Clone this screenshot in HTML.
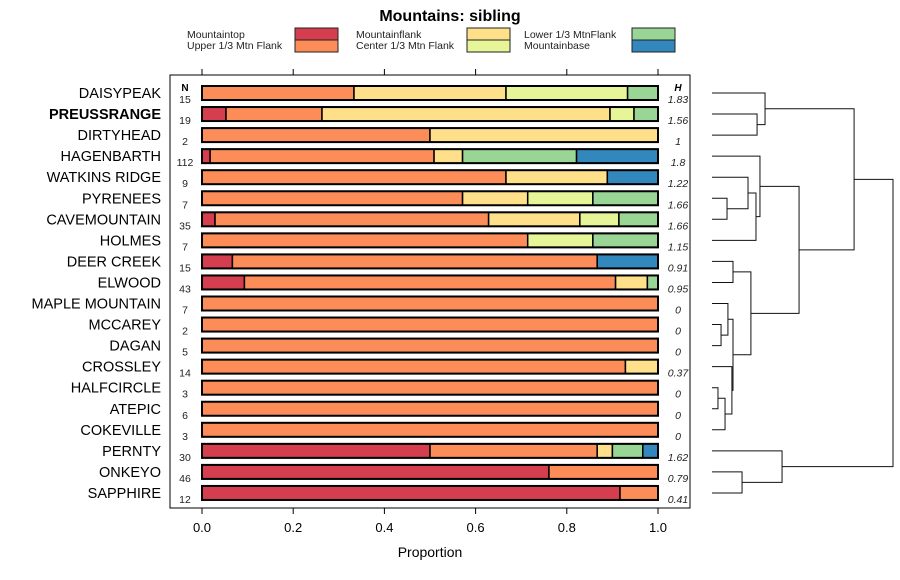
<!DOCTYPE html>
<html><head><meta charset="utf-8"><style>
body{margin:0;background:#fff}
svg{display:block;font-family:"Liberation Sans",sans-serif}
</style></head><body>
<svg id="c" width="900" height="580"></svg>
<script>
const sites=["DAISYPEAK","PREUSSRANGE","DIRTYHEAD","HAGENBARTH","WATKINS RIDGE","PYRENEES","CAVEMOUNTAIN","HOLMES","DEER CREEK","ELWOOD","MAPLE MOUNTAIN","MCCAREY","DAGAN","CROSSLEY","HALFCIRCLE","ATEPIC","COKEVILLE","PERNTY","ONKEYO","SAPPHIRE"];
const categories=["Mountaintop","Upper 1/3 Mtn Flank","Mountainflank","Center 1/3 Mtn Flank","Lower 1/3 MtnFlank","Mountainbase"];
const colors=["#d53e4f","#fc8d59","#fee08b","#e6f598","#99d594","#3288bd"];
const counts=[
[0,5,5,4,1,0],[1,4,12,1,1,0],[0,1,1,0,0,0],[2,55,7,0,28,20],[0,6,2,0,0,1],
[0,4,1,1,1,0],[1,21,7,3,3,0],[0,5,0,1,1,0],[1,12,0,0,0,2],[4,35,3,0,1,0],
[0,7,0,0,0,0],[0,2,0,0,0,0],[0,5,0,0,0,0],[0,13,1,0,0,0],[0,3,0,0,0,0],
[0,6,0,0,0,0],[0,3,0,0,0,0],[15,11,1,0,2,1],[35,11,0,0,0,0],[11,1,0,0,0,0]];
const hValues=["1.83","1.56","1","1.8","1.22","1.66","1.66","1.15","0.91","0.95","0","0","0","0.37","0","0","0","1.62","0.79","0.41"];
const xTicks=[0,0.2,0.4,0.6,0.8,1.0];
const xTickLabels=["0.0","0.2","0.4","0.6","0.8","1.0"];
// dendrogram merges: [a,b,height]; numbers = leaf index, "nK" = K-th merge
const merges=[
[1,2,0.249],[0,"n0",0.293],[5,6,0.083],[4,"n2",0.199],["n3",7,0.243],[3,"n4",0.265],
[8,9,0.116],[11,12,0.050],[10,"n7",0.088],[14,15,0.033],[16,"n9",0.072],[13,"n10",0.110],
["n8","n11",0.116],["n6","n12",0.215],["n5","n13",0.481],["n1","n14",0.785],
[18,19,0.166],[17,"n16",0.387],["n15","n17",1.0]];
const svg=document.getElementById('c');const NS="http://www.w3.org/2000/svg";
function mk(t,a,p){const e=document.createElementNS(NS,t);for(const k in a)e.setAttribute(k,a[k]);(p||svg).appendChild(e);return e;}
const X0=202,X1=658,xs=p=>X0+p*(X1-X0);
const Y0=93,DY=21.05,ys=i=>Y0+i*DY;
let t=mk('text',{x:450,y:21,'text-anchor':'middle','font-size':16,'font-weight':'bold'});t.textContent="Mountains: sibling";


const lx=[[187,295],[356,467],[524,632]];
categories.forEach((c,i)=>{const col=Math.floor(i/2),row=i%2;
 const g=mk('g',{});
 
 
 const tx=mk('text',{x:lx[col][0],y:38+row*11,'font-size':10.5,fill:'#222'},g);tx.textContent=c;
 mk('rect',{x:lx[col][1],y:28+row*12,width:43,height:12,fill:colors[i],stroke:'#222','stroke-width':1},g);});
const fr=mk('rect',{x:170,y:75,width:520,height:433,fill:'none',stroke:'#000','stroke-width':1});


xTicks.forEach((v,i)=>{const x=xs(v);
 mk('line',{x1:x,x2:x,y1:75,y2:69,stroke:'#000'});mk('line',{x1:x,x2:x,y1:508,y2:514,stroke:'#000'});
 const tl=mk('text',{x:x,y:532,'text-anchor':'middle','font-size':13});tl.textContent=xTickLabels[i];
 
 });
t=mk('text',{x:430,y:557,'text-anchor':'middle','font-size':14});t.textContent="Proportion";


t=mk('text',{x:185,y:91,'text-anchor':'middle','font-size':10,'font-weight':'bold'});t.textContent="N";
t=mk('text',{x:678,y:91,'text-anchor':'middle','font-size':10,'font-weight':'bold','font-style':'italic'});t.textContent="H";
sites.forEach((s,i)=>{const y=ys(i);
 const lb=mk('text',{x:161,y:y+5,'text-anchor':'end','font-size':14.5,'font-weight':i==1?'bold':'normal'});lb.textContent=s;
 
 
 const tot=counts[i].reduce((a,b)=>a+b,0);
 const n=mk('text',{x:185,y:y+10,'text-anchor':'middle','font-size':10.5,fill:'#222'});n.textContent=tot;
 const h=mk('text',{x:678,y:y+10,'text-anchor':'middle','font-size':10.5,'font-style':'italic',fill:'#222'});h.textContent=hValues[i];
 let cum=0;
 counts[i].forEach((c,k)=>{if(!c)return;const p=c/tot;
  const r=mk('rect',{x:xs(cum),y:y-7,width:xs(cum+p)-xs(cum),height:14,fill:colors[k],stroke:'#000','stroke-width':1.5});
  
  
  cum+=p;});
 mk('rect',{x:X0,y:y-7,width:X1-X0,height:14,fill:'none',stroke:'#000','stroke-width':2});
});
// dendrogram
const DX0=712,DX1=893,dx=h=>DX0+h*(DX1-DX0);
const nodes=[];
function pos(r){return typeof r==='number'?{y:ys(r),h:0}:nodes[+r.slice(1)];}
const dg=mk('g',{stroke:'#111','stroke-width':1,fill:'none'});


merges.forEach(m=>{const a=pos(m[0]),b=pos(m[1]),x=dx(m[2]);
 mk('path',{d:`M${dx(a.h)},${a.y}H${x}V${b.y}H${dx(b.h)}`},dg);
 nodes.push({y:(a.y+b.y)/2,h:m[2]});});
</script>
</body></html>
